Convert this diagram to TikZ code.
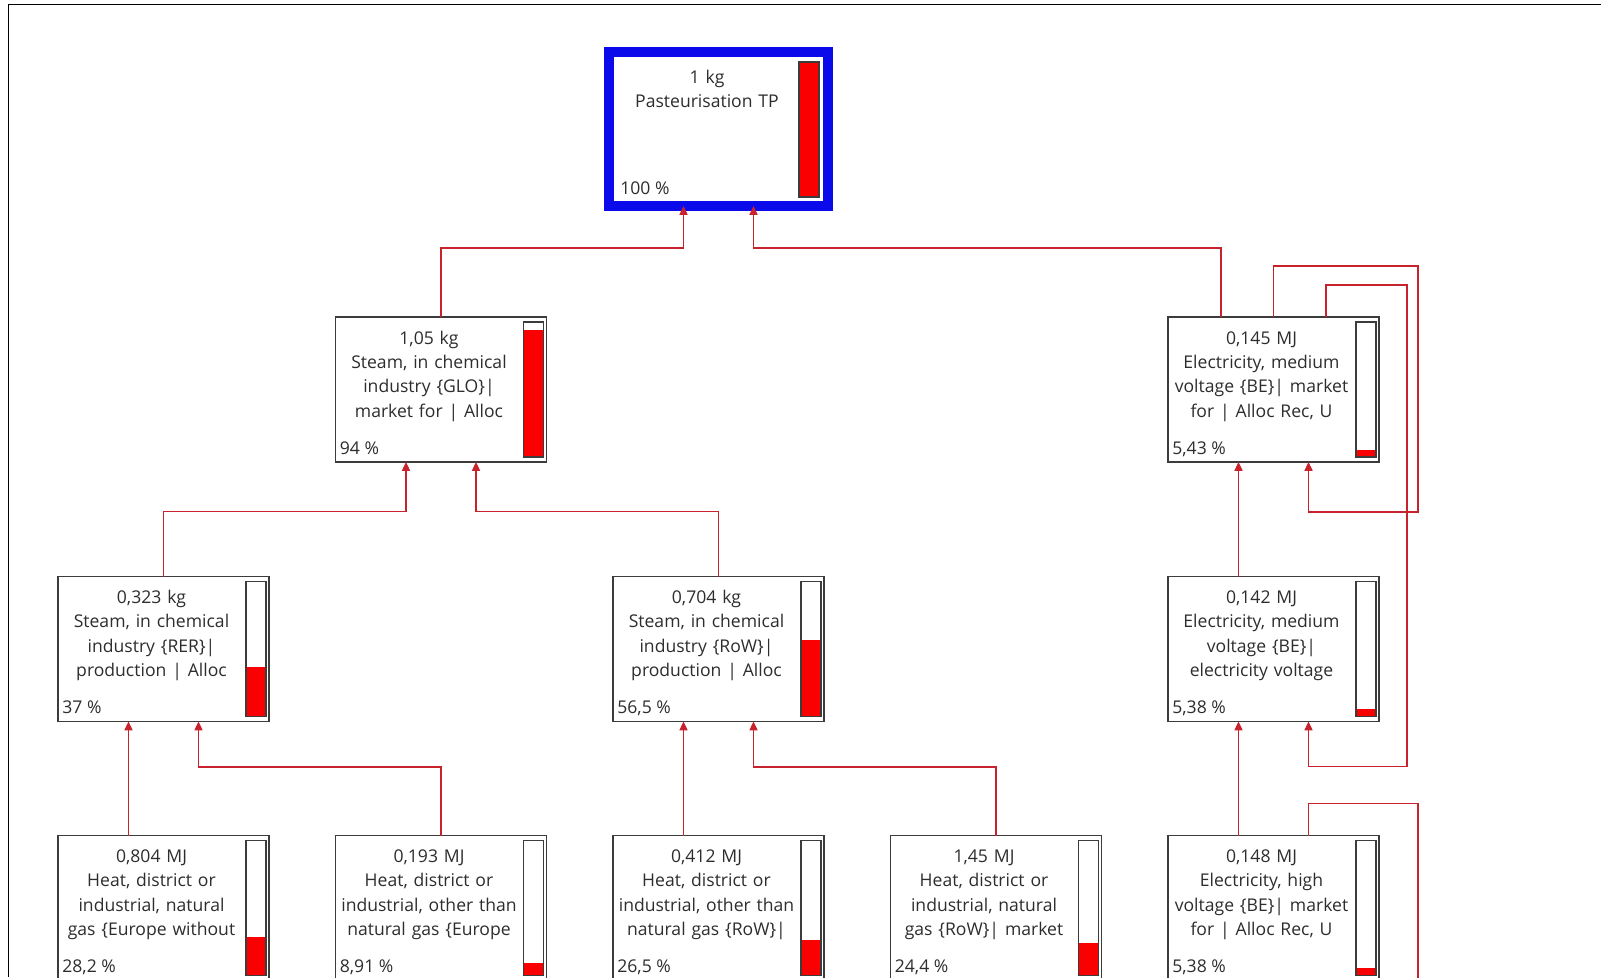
\documentclass[tikz,border=0pt]{standalone}
\usepackage{fontspec}
\setmainfont{Open Sans}
\usepackage{xcolor}
\usepackage{tikz}
\usetikzlibrary{arrows.meta}

\definecolor{linkred}{RGB}{200,35,45}
\definecolor{barred}{RGB}{250,0,0}
\definecolor{framblue}{RGB}{10,10,235}
\definecolor{boxgrey}{RGB}{60,60,60}
\definecolor{textgrey}{RGB}{45,45,45}

\begin{document}
\begin{tikzpicture}[x=0.02cm, y=-0.02cm,
    proc/.style={draw=boxgrey, line width=0.9pt, minimum width=4.22cm, minimum height=2.9cm, inner sep=0pt, outer sep=0pt},
    txt/.style={text=textgrey, font={\fontsize{10}{13.9}\selectfont}, text width=3.9cm, align=center, anchor=base, inner sep=0pt},
    pct/.style={text=textgrey, font={\fontsize{10}{13.9}\selectfont}, anchor=base west, inner sep=0pt},
    flow/.style={draw=linkred, line width=0.75pt, -{Triangle[width=4.6pt,length=5pt]}},
    bar/.style={draw=boxgrey, line width=0.7pt}]

    \useasboundingbox (0,0) rectangle (1601,977);
    \clip (0,0) rectangle (1601,977);
    \fill[white] (0,0) rectangle (1601,977);

    % Screenshot frame
    \draw[line width=1.1pt] (8.5,977) -- (8.5,4.5) -- (1601,4.5);

    % Pasteurisation (top)
    \node[proc, draw=framblue, line width=0.2cm, minimum width=4.38cm, minimum height=3.08cm] (top) at (718.5,129) {};
    \node[txt] (top-t) at (707,83) {1 kg\\Pasteurisation TP};
    \node[pct] (top-p) at (620,194) {100 \%};

    % Steam GLO
    \node[proc] (glo) at (441,389.5) {};
    \node[txt] (glo-t) at (429,344) {1,05 kg\\Steam, in chemical\\industry \{GLO\}|\\market for | Alloc};
    \node[pct] (glo-p) at (339.5,454) {94 \%};

    % Electricity, medium voltage, market
    \node[proc] (e145) at (1273.5,389.5) {};
    \node[txt] (e145-t) at (1261.5,344) {0,145 MJ\\Electricity, medium\\voltage \{BE\}| market\\for | Alloc Rec, U};
    \node[pct] (e145-p) at (1172,454) {5,43 \%};

    % Steam RER
    \node[proc] (rer) at (163.5,649) {};
    \node[txt] (rer-t) at (151.5,603.5) {0,323 kg\\Steam, in chemical\\industry \{RER\}|\\production | Alloc};
    \node[pct] (rer-p) at (62,713.5) {37 \%};

    % Steam RoW
    \node[proc] (row) at (718.5,649) {};
    \node[txt] (row-t) at (706.5,603.5) {0,704 kg\\Steam, in chemical\\industry \{RoW\}|\\production | Alloc};
    \node[pct] (row-p) at (617,713.5) {56,5 \%};

    % Electricity, medium voltage, transformation
    \node[proc] (e142) at (1273.5,649) {};
    \node[txt] (e142-t) at (1261.5,603.5) {0,142 MJ\\Electricity, medium\\voltage \{BE\}|\\electricity voltage};
    \node[pct] (e142-p) at (1172,713.5) {5,38 \%};

    % Heat nodes
    \node[proc] (h804) at (163.5,908) {};
    \node[txt] (h804-t) at (151.5,862.5) {0,804 MJ\\Heat, district or\\industrial, natural\\gas \{Europe without};
    \node[pct] (h804-p) at (62,972.5) {28,2 \%};

    \node[proc] (h193) at (441,908) {};
    \node[txt] (h193-t) at (429,862.5) {0,193 MJ\\Heat, district or\\industrial, other than\\natural gas \{Europe};
    \node[pct] (h193-p) at (339.5,972.5) {8,91 \%};

    \node[proc] (h412) at (718.5,908) {};
    \node[txt] (h412-t) at (706.5,862.5) {0,412 MJ\\Heat, district or\\industrial, other than\\natural gas \{RoW\}|};
    \node[pct] (h412-p) at (617,972.5) {26,5 \%};

    \node[proc] (h145) at (996,908) {};
    \node[txt] (h145-t) at (984,862.5) {1,45 MJ\\Heat, district or\\industrial, natural\\gas \{RoW\}| market};
    \node[pct] (h145-p) at (894.5,972.5) {24,4 \%};

    % Electricity, high voltage
    \node[proc] (e148) at (1273.5,908) {};
    \node[txt] (e148-t) at (1261.5,862.5) {0,148 MJ\\Electricity, high\\voltage \{BE\}| market\\for | Alloc Rec, U};
    \node[pct] (e148-p) at (1172,972.5) {5,38 \%};

    \coordinate (e148end) at (1418,995);

    % Bars
    \fill[barred] ([shift={(-29,10)}]top.north east) rectangle ([shift={(-9,-9)}]top.south east);
    \draw[bar] ([shift={(-29,10)}]top.north east) rectangle ([shift={(-9,-9)}]top.south east);
    \foreach \n/\f in {glo/0.94, e145/0.0543, rer/0.37, row/0.565, e142/0.0538,
                       h804/0.282, h193/0.0891, h412/0.265, h145/0.244, e148/0.0538} {
      \fill[barred] ([shift={(-23,-5)}]\n.south east) rectangle ([shift={(-3,{-5-135*\f})}]\n.south east);
      \draw[bar] ([shift={(-23,5)}]\n.north east) rectangle ([shift={(-3,-5)}]\n.south east);
    }

    % Links
    \draw[flow] (glo.north) -- ++(0,-69) -| ([shift={(-35,0)}]top.south);
    \draw[flow] ([shift={(-52.5,0)}]e145.north) -- ++(0,-69) -| ([shift={(35,0)}]top.south);
    \draw[flow] (e145.north) -- ++(0,-51) -- ++(144.5,0) |- ([shift={(35,50)}]e145.south) -- ([shift={(35,0)}]e145.south);
    \draw[flow] ([shift={(52.5,0)}]e145.north) -- ++(0,-32) -- ++(81,0) |- ([shift={(35,45)}]e142.south) -- ([shift={(35,0)}]e142.south);
    \draw[flow] ([shift={(-35,0)}]e142.north) -- ([shift={(-35,0)}]e145.south);
    \draw[flow] ([shift={(-35,0)}]e148.north) -- ([shift={(-35,0)}]e142.south);
    \draw[draw=linkred, line width=0.75pt] ([shift={(35,0)}]e148.north) -- ++(0,-32) -| (e148end);
    \draw[flow] (rer.north) -- ++(0,-65) -| ([shift={(-35,0)}]glo.south);
    \draw[flow] (row.north) -- ++(0,-65) -| ([shift={(35,0)}]glo.south);
    \draw[flow] ([shift={(-35,0)}]h804.north) -- ([shift={(-35,0)}]rer.south);
    \draw[flow] (h193.north) -- ++(0,-68.5) -| ([shift={(35,0)}]rer.south);
    \draw[flow] ([shift={(-35,0)}]h412.north) -- ([shift={(-35,0)}]row.south);
    \draw[flow] (h145.north) -- ++(0,-68.5) -| ([shift={(35,0)}]row.south);
  \end{tikzpicture}
\end{document}
